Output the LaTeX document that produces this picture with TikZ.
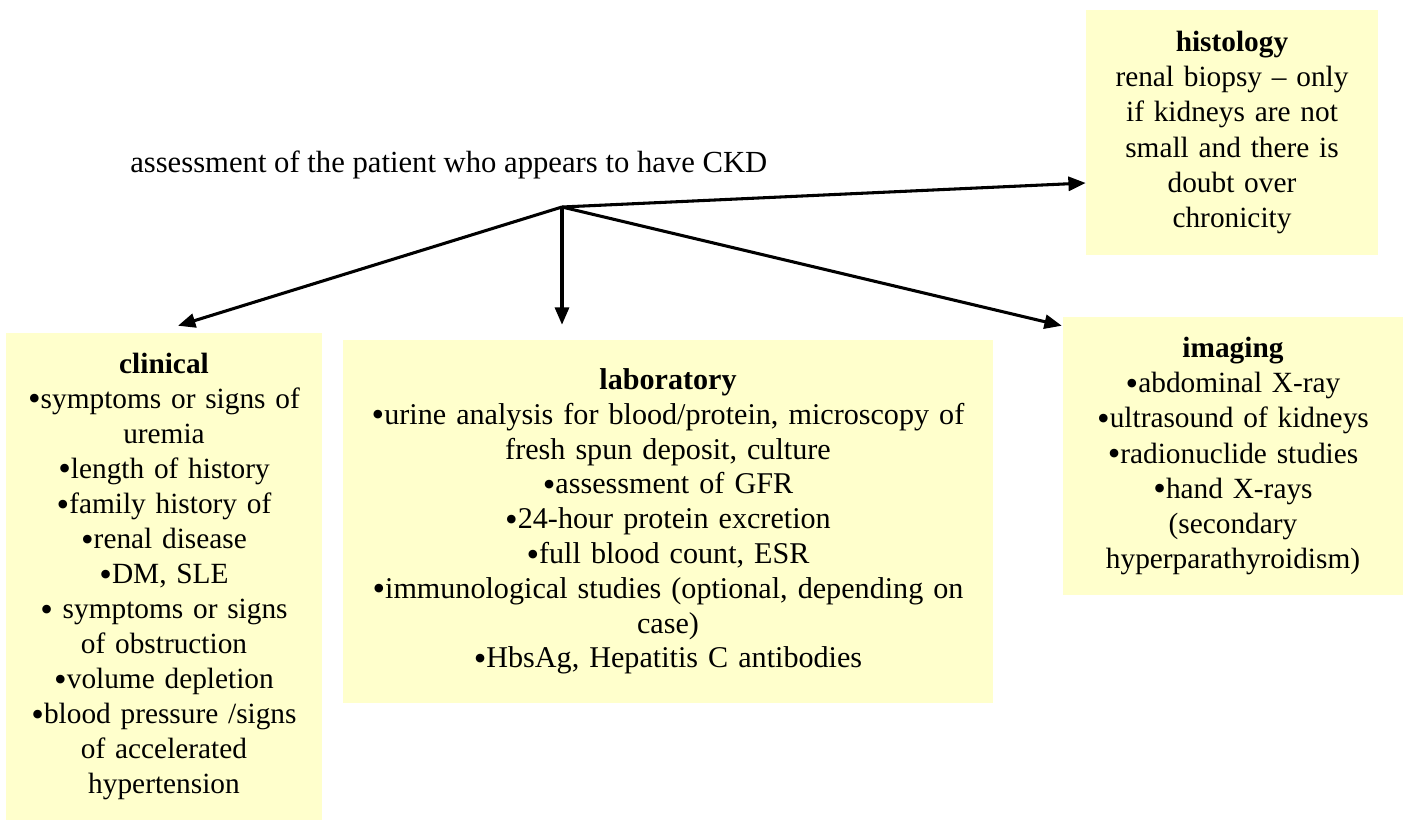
\documentclass[tikz,border=0pt]{standalone}
\usepackage{fontspec}
\setmainfont{Liberation Serif}
\usetikzlibrary{arrows.meta,calc}
\definecolor{boxfill}{HTML}{FFFFCC}
\newcommand{\bu}{\raisebox{-2pt}{\fontsize{27}{20}\selectfont •}}
\tikzset{
  box/.style={fill=boxfill, draw=none, inner sep=0pt, align=center,
    font=\fontsize{22}{26.3}\selectfont},
  arr/.style={line width=2.3pt, -{Triangle[length=13pt,width=10.5pt]}},
}
\begin{document}
\begin{tikzpicture}[x=0.75pt,y=-0.75pt]
\useasboundingbox (0,0) rectangle (1406,821);
\node[anchor=base west, inner sep=0pt, font=\fontsize{23}{26.3}\selectfont] (title) at (130,172)
  {assessment of the patient who appears to have CKD};
\coordinate (hub) at (562,207);
\node[box, minimum width=237pt, minimum height=365.25pt, text width=237pt] (clinical) at (164,576.5)
  {\textbf{clinical}\\
   \bu symptoms or signs of\\ uremia\\
   \bu length of history\\
   \bu family history of\\
   \bu renal disease\\
   \bu DM, SLE\\
   \bu\ symptoms or signs\\ of obstruction\\
   \bu volume depletion\\
   \bu blood pressure /signs\\ of accelerated\\ hypertension};
\node[box, minimum width=487.5pt, minimum height=272.25pt, text width=487.5pt,
  font=\fontsize{22.6}{26.1}\selectfont] (lab) at (668,521.5)
  {\textbf{laboratory}\\
   \bu urine analysis for blood/protein, microscopy of\\ fresh spun deposit, culture\\
   \bu assessment of GFR\\
   \bu 24-hour protein excretion\\
   \bu full blood count, ESR\\
   \bu immunological studies (optional, depending on\\ case)\\
   \bu HbsAg, Hepatitis C antibodies};
\node[box, minimum width=255pt, minimum height=208.5pt, text width=255pt] (imaging) at (1233,456)
  {\textbf{imaging}\\
   \bu abdominal X-ray\\
   \bu ultrasound of kidneys\\
   \bu radionuclide studies\\
   \bu hand X-rays\\ (secondary\\ hyperparathyroidism)};
\node[box, minimum width=219pt, minimum height=183.75pt, text width=219pt] (histology) at (1232,132.5)
  {\textbf{histology}\\
   renal biopsy – only\\ if kidneys are not\\ small and there is\\ doubt over\\ chronicity};
\draw[arr] (hub) -- ($(clinical.north)+(14,-7)$);
\draw[arr] (hub) -- ($(lab.north)+(-106,-15)$);
\draw[arr] (hub) -- ($(imaging.north west)+(-1,9)$);
\draw[arr] (hub) -- ($(histology.west)+(0,50.5)$);
\end{tikzpicture}
\end{document}
